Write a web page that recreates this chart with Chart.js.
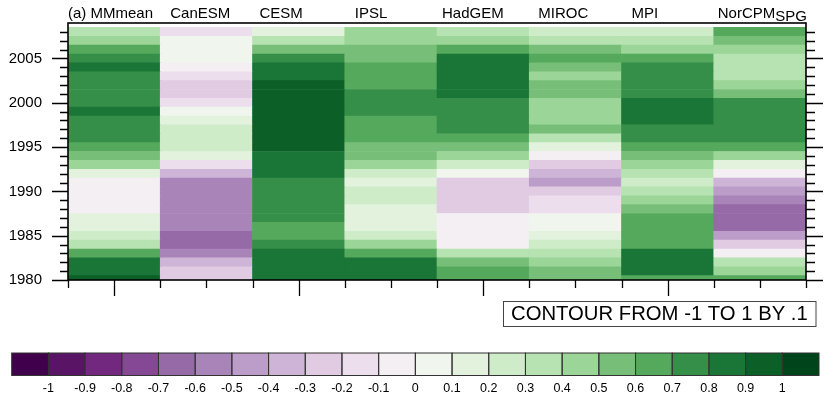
<!DOCTYPE html>
<html>
<head>
<meta charset="utf-8">
<script src="https://cdn.jsdelivr.net/npm/chart.js@4"></script>
<style>
  html, body { margin: 0; padding: 0; background: #fff; }
  #wrap { width: 829px; height: 399px; position: relative; }
</style>
</head>
<body>
<div id="wrap"><canvas id="grafico" width="829" height="399"></canvas></div>
<script>
// columnas (modelos) y años
const modelos = ['(a) MMmean', 'CanESM', 'CESM', 'IPSL', 'HadGEM', 'MIROC', 'MPI', 'NorCPM'];
const anios = [1980, 1981, 1982, 1983, 1984, 1985, 1986, 1987, 1988, 1989,
               1990, 1991, 1992, 1993, 1994, 1995, 1996, 1997, 1998, 1999,
               2000, 2001, 2002, 2003, 2004, 2005, 2006, 2007, 2008];
const aniosEtiqueta = [1980, 1985, 1990, 1995, 2000, 2005];

// valores por modelo, de 1980 a 2008
const mmmean = [0.93, 0.86, 0.84, 0.66, 0.37, 0.26, 0.14, 0.17, -0.04, -0.06,
                -0.03, -0.07, 0.13, 0.47, 0.55, 0.64, 0.74, 0.76, 0.73, 0.84,
                0.77, 0.72, 0.75, 0.78, 0.87, 0.76, 0.63, 0.45, 0.34];
const canesm = [-0.25, -0.24, -0.36, -0.55, -0.63, -0.66, -0.54, -0.56, -0.53, -0.57,
                -0.55, -0.52, -0.33, -0.14, 0.12, 0.24, 0.26, 0.23, 0.15, 0.04,
                -0.16, -0.27, -0.24, -0.13, -0.04, 0.03, 0.06, 0.02, -0.15];
const cesm = [0.84, 0.86, 0.85, 0.83, 0.74, 0.66, 0.63, 0.76, 0.73, 0.75,
              0.77, 0.74, 0.82, 0.86, 0.84, 0.93, 0.96, 0.94, 0.97, 0.95,
              0.92, 0.96, 0.93, 0.87, 0.83, 0.76, 0.56, 0.36, 0.14];
const ipsl = [0.85, 0.83, 0.86, 0.64, 0.46, 0.27, 0.16, 0.13, 0.17, 0.24,
              0.26, 0.12, 0.23, 0.44, 0.53, 0.57, 0.64, 0.67, 0.63, 0.74,
              0.76, 0.73, 0.65, 0.62, 0.66, 0.56, 0.54, 0.45, 0.43];
const hadgem = [0.65, 0.63, 0.55, 0.36, -0.04, -0.06, -0.03, -0.05, -0.26, -0.23,
                -0.27, -0.24, 0.04, 0.26, 0.44, 0.56, 0.64, 0.73, 0.76, 0.74,
                0.77, 0.84, 0.87, 0.85, 0.83, 0.86, 0.66, 0.45, 0.35];
const miroc = [0.55, 0.57, 0.44, 0.35, 0.24, 0.16, 0.04, 0.06, -0.14, -0.16,
               -0.25, -0.46, -0.34, -0.23, -0.05, 0.13, 0.34, 0.53, 0.45, 0.43,
               0.46, 0.54, 0.56, 0.44, 0.55, 0.63, 0.57, 0.37, 0.26];
const mpi = [0.64, 0.85, 0.87, 0.84, 0.63, 0.66, 0.64, 0.62, 0.55, 0.45,
             0.36, 0.25, 0.34, 0.46, 0.54, 0.65, 0.74, 0.76, 0.83, 0.86,
             0.85, 0.75, 0.73, 0.77, 0.74, 0.64, 0.44, 0.36, 0.25];
const norcpm = [0.63, 0.45, 0.34, -0.05, -0.24, -0.45, -0.63, -0.66, -0.64, -0.56,
                -0.44, -0.33, -0.04, 0.14, 0.45, 0.64, 0.75, 0.73, 0.76, 0.74,
                0.77, 0.56, 0.45, 0.34, 0.36, 0.33, 0.44, 0.55, 0.64];
const series = [mmmean, canesm, cesm, ipsl, hadgem, miroc, mpi, norcpm];

// niveles de la barra de colores
const niveles = ['-1', '-0.9', '-0.8', '-0.7', '-0.6', '-0.5', '-0.4', '-0.3', '-0.2', '-0.1', '0',
                 '0.1', '0.2', '0.3', '0.4', '0.5', '0.6', '0.7', '0.8', '0.9', '1'];
const colores = ['#40004b', '#5a1466', '#732880', '#854894', '#9669a7', '#a984b9',
                 '#bc9dca', '#ceb5d7', '#e0cbe3', '#ecdeec', '#f3eff3', '#f0f5ee',
                 '#e2f2dd', '#cfecc9', '#b7e2b1', '#9bd597', '#77bf79', '#54a95d',
                 '#368f49', '#1a7636', '#0d5f28', '#00441b'];

// separación del título respecto al borde izquierdo de su columna (px)
const sangriaTitulos = [0, 10, 7, 10, 5, 9, 10, 4];

function colorDe(v) {
    let i = Math.floor((v + 1) * 10 + 1e-9) + 1;
    if (i < 0) i = 0;
    if (i > colores.length - 1) i = colores.length - 1;
    return colores[i];
}

const fuente = '"Liberation Sans", Arial, Helvetica, sans-serif';
Chart.defaults.font.family = fuente;
Chart.defaults.color = '#000';

// una serie de barras flotantes por año: cada barra es una celda
const datasets = anios.map((anio, j) => ({
    label: String(anio),
    data: modelos.map(() => [anio - 0.5, anio + 0.5]),
    backgroundColor: series.map(s => colorDe(s[j])),
    borderWidth: 0,
    barPercentage: 1,
    categoryPercentage: 1,
    grouped: false
}));

// dibuja marco, marcas, títulos de columna y barra de colores
const decorado = {
    id: 'decorado',
    afterDatasetsDraw(chart) {
        const { ctx, chartArea: a, scales: { x, y } } = chart;
        ctx.save();

        // marcas de años a izquierda y derecha
        ctx.strokeStyle = '#000';
        ctx.lineWidth = 1.3;
        ctx.beginPath();
        anios.forEach(anio => {
            const py = Math.round(y.getPixelForValue(anio)) + 0.5;
            const largo = anio % 5 === 0 ? 16 : 8;
            ctx.moveTo(a.left - largo, py); ctx.lineTo(a.left, py);
            ctx.moveTo(a.right, py); ctx.lineTo(a.right + largo + 1, py);
        });
        // marcas inferiores cada media columna
        for (let k = 0; k <= modelos.length * 2; k++) {
            const v = k / 2 - 0.5;
            const px = Math.round(x.getPixelForValue(v)) + 0.5;
            const mayor = k % 4 === 1;
            ctx.moveTo(px, a.bottom); ctx.lineTo(px, a.bottom + (mayor ? 16 : 8));
        }
        ctx.stroke();

        // marco
        ctx.lineWidth = 1.6;
        ctx.strokeRect(a.left, a.top, a.right - a.left, a.bottom - a.top);

        // títulos de columna
        ctx.fillStyle = '#000';
        ctx.font = '15px ' + fuente;
        ctx.textBaseline = 'alphabetic';
        ctx.textAlign = 'left';
        modelos.forEach((m, i) => {
            const izq = x.getPixelForValue(i - 0.5) + sangriaTitulos[i];
            ctx.fillText(m, izq, 18);
            if (m === 'NorCPM') {
                const w = ctx.measureText(m).width;
                ctx.fillText('SPG', izq + w, 21);
            }
        });

        // barra de colores
        const cbIzq = 11.7, cbDer = 819, cbArriba = 353, cbAlto = 22.5;
        const ancho = (cbDer - cbIzq) / colores.length;
        colores.forEach((c, i) => {
            ctx.fillStyle = c;
            ctx.fillRect(cbIzq + i * ancho, cbArriba, ancho, cbAlto);
        });
        ctx.strokeStyle = '#333';
        ctx.lineWidth = 1;
        colores.forEach((c, i) => {
            ctx.strokeRect(cbIzq + i * ancho, cbArriba, ancho, cbAlto);
        });
        ctx.fillStyle = '#000';
        ctx.font = '12.5px ' + fuente;
        ctx.textAlign = 'center';
        niveles.forEach((t, i) => {
            ctx.fillText(t, cbIzq + (i + 1) * ancho, 392);
        });

        // recuadro de texto
        ctx.strokeStyle = '#444';
        ctx.strokeRect(503.5, 301.5, 312.5, 25);
        ctx.font = '20.3px ' + fuente;
        ctx.textAlign = 'left';
        ctx.fillText('CONTOUR FROM -1 TO 1 BY .1', 511, 320);

        ctx.restore();
    }
};

new Chart(document.getElementById('grafico'), {
    type: 'bar',
    data: { labels: modelos, datasets: datasets },
    options: {
        responsive: false,
        animation: false,
        layout: { padding: { top: 23, right: 23, left: 0, bottom: 0 } },
        plugins: { legend: { display: false }, tooltip: { enabled: false } },
        scales: {
            x: {
                ticks: { display: false },
                grid: { display: false, drawTicks: false },
                border: { display: false },
                afterFit: s => { s.height = 119; s.paddingLeft = 0; s.paddingRight = 0; }
            },
            y: {
                min: 1980,
                max: 2009,
                afterBuildTicks: s => { s.ticks = aniosEtiqueta.map(v => ({ value: v })); },
                ticks: { font: { size: 15 }, padding: 26, color: '#000', callback: v => String(v) },
                grid: { display: false, drawTicks: false },
                border: { display: false },
                afterFit: s => { s.width = 68; s.paddingTop = 0; s.paddingBottom = 0; }
            }
        }
    },
    plugins: [decorado]
});
</script>
</body>
</html>
